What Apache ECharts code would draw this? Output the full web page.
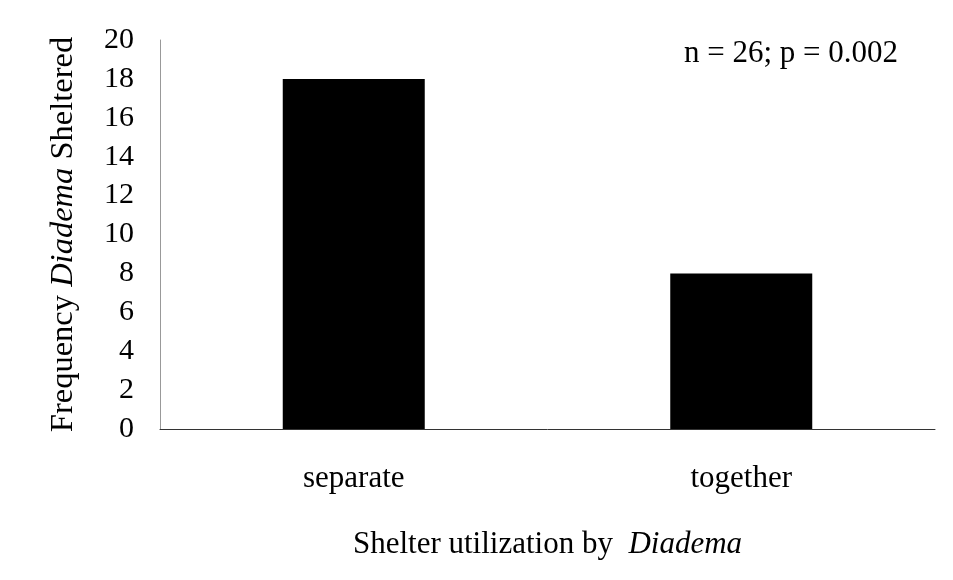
<!DOCTYPE html>
<html>
<head>
<meta charset="utf-8">
<script src="https://cdn.jsdelivr.net/npm/echarts@6/dist/echarts.min.js"></script>
<style>
  html, body { margin: 0; padding: 0; background: #fff; }
  #chart { width: 953px; height: 580px; }
</style>
</head>
<body>
<div id="chart"></div>
<script>
  // 数据
  const categories = ['separate', 'together']
  const sheltered = [18, 8]
  const note = 'n = 26; p = 0.002'

  const serif = '"Liberation Serif", "DejaVu Serif", serif'

  const myChart = echarts.init(document.getElementById('chart'))
  const option = {
    backgroundColor: '#fff',
    animation: false,
    textStyle: { fontFamily: serif, color: '#000' },
    grid: { left: 160, right: 18, top: 40, bottom: 151 },
    graphic: [
      {
        type: 'text',
        right: 55,
        top: 38,
        style: { text: note, font: '31px ' + serif, fill: '#000' }
      }
    ],
    xAxis: {
      type: 'category',
      data: categories,
      axisLine: { lineStyle: { color: '#333', width: 1 } },
      axisTick: { show: false },
      axisLabel: { color: '#000', fontSize: 31, fontFamily: serif, margin: 34 },
      name: '{a|Shelter utilization by  }{b|Diadema}',
      nameLocation: 'middle',
      nameGap: 100,
      nameTextStyle: {
        rich: {
          a: { fontSize: 31, fontFamily: serif, color: '#000' },
          b: { fontSize: 31, fontFamily: serif, fontStyle: 'italic', color: '#000' }
        }
      }
    },
    yAxis: {
      type: 'value',
      min: 0,
      max: 20,
      interval: 2,
      splitLine: { show: false },
      axisLine: { show: true, lineStyle: { color: '#999', width: 1 } },
      axisTick: { show: false },
      axisLabel: { color: '#000', fontSize: 30, fontFamily: serif, margin: 26 },
      name: '{a|Frequency }{b|Diadema}{a| Sheltered}',
      nameLocation: 'middle',
      nameGap: 80,
      nameTextStyle: {
        rich: {
          a: { fontSize: 32.5, fontFamily: serif, color: '#000' },
          b: { fontSize: 32.5, fontFamily: serif, fontStyle: 'italic', color: '#000' }
        }
      }
    },
    series: [
      {
        type: 'bar',
        data: sheltered,
        barWidth: 142,
        itemStyle: { color: '#000' }
      }
    ]
  }
  myChart.setOption(option)

  window.onresize = function () {
    myChart.resize()
  }
</script>
</body>
</html>
